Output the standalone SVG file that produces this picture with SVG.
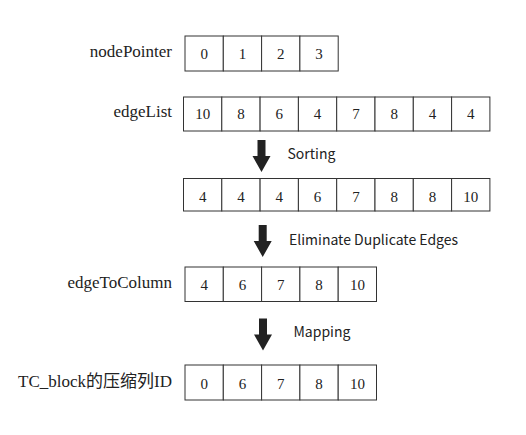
<svg xmlns="http://www.w3.org/2000/svg" width="526" height="435" viewBox="0 0 526 435">
<style>
.cell{fill:#fff;stroke:#333;stroke-width:1}
.num{font-family:'Liberation Serif','Times New Roman',Tinos,'DejaVu Serif',serif;font-size:15px;fill:#222;text-anchor:middle}
.lbl{font-family:'Liberation Serif','Times New Roman',Tinos,'DejaVu Serif',serif;font-size:17px;fill:#222;text-anchor:end}
.cjk{font-family:'Noto Sans CJK SC',sans-serif}
.step{font-family:'Noto Sans CJK SC','Noto Sans',sans-serif;font-size:14px;fill:#222}
.arr{fill:#222}
</style>
<defs>
<path id="downArrow" class="arr" d="M-4,0 H4 V16 H9 L0,32 L-9,16 H-4 Z"/>
</defs>
<rect width="526" height="435" fill="#fff"/>
<g id="nodePointer">
<text class="lbl" x="172" y="57">nodePointer</text>
<rect class="cell" x="185" y="36" width="38.3" height="35"/>
<rect class="cell" x="223.3" y="36" width="38.3" height="35"/>
<rect class="cell" x="261.6" y="36" width="38.3" height="35"/>
<rect class="cell" x="299.9" y="36" width="38.3" height="35"/>
<text class="num" x="204.2" y="59">0</text>
<text class="num" x="242.5" y="59">1</text>
<text class="num" x="280.8" y="59">2</text>
<text class="num" x="319.1" y="59">3</text>
</g>
<g id="edgeList">
<text class="lbl" x="172" y="117">edgeList</text>
<rect class="cell" x="183.5" y="97" width="38.3" height="34"/>
<rect class="cell" x="221.8" y="97" width="38.3" height="34"/>
<rect class="cell" x="260.1" y="97" width="38.3" height="34"/>
<rect class="cell" x="298.4" y="97" width="38.3" height="34"/>
<rect class="cell" x="336.7" y="97" width="38.3" height="34"/>
<rect class="cell" x="375" y="97" width="38.3" height="34"/>
<rect class="cell" x="413.3" y="97" width="38.3" height="34"/>
<rect class="cell" x="451.6" y="97" width="38.3" height="34"/>
<text class="num" x="202.7" y="118.5">10</text>
<text class="num" x="241" y="118.5">8</text>
<text class="num" x="279.3" y="118.5">6</text>
<text class="num" x="317.6" y="118.5">4</text>
<text class="num" x="355.9" y="118.5">7</text>
<text class="num" x="394.2" y="118.5">8</text>
<text class="num" x="432.5" y="118.5">4</text>
<text class="num" x="470.8" y="118.5">4</text>
</g>
<g id="sorted">
<rect class="cell" x="183.5" y="178.5" width="38.3" height="32.5"/>
<rect class="cell" x="221.8" y="178.5" width="38.3" height="32.5"/>
<rect class="cell" x="260.1" y="178.5" width="38.3" height="32.5"/>
<rect class="cell" x="298.4" y="178.5" width="38.3" height="32.5"/>
<rect class="cell" x="336.7" y="178.5" width="38.3" height="32.5"/>
<rect class="cell" x="375" y="178.5" width="38.3" height="32.5"/>
<rect class="cell" x="413.3" y="178.5" width="38.3" height="32.5"/>
<rect class="cell" x="451.6" y="178.5" width="38.3" height="32.5"/>
<text class="num" x="202.7" y="201.5">4</text>
<text class="num" x="241" y="201.5">4</text>
<text class="num" x="279.3" y="201.5">4</text>
<text class="num" x="317.6" y="201.5">6</text>
<text class="num" x="355.9" y="201.5">7</text>
<text class="num" x="394.2" y="201.5">8</text>
<text class="num" x="432.5" y="201.5">8</text>
<text class="num" x="470.8" y="201.5">10</text>
</g>
<g id="edgeToColumn">
<text class="lbl" x="172" y="288">edgeToColumn</text>
<rect class="cell" x="185" y="267" width="38.3" height="34.5"/>
<rect class="cell" x="223.3" y="267" width="38.3" height="34.5"/>
<rect class="cell" x="261.6" y="267" width="38.3" height="34.5"/>
<rect class="cell" x="299.9" y="267" width="38.3" height="34.5"/>
<rect class="cell" x="338.2" y="267" width="38.3" height="34.5"/>
<text class="num" x="204.2" y="290">4</text>
<text class="num" x="242.5" y="290">6</text>
<text class="num" x="280.8" y="290">7</text>
<text class="num" x="319.1" y="290">8</text>
<text class="num" x="357.4" y="290">10</text>
</g>
<g id="compressedID">
<text class="lbl" x="172" y="386.5">TC_block<tspan class="cjk">的压缩列</tspan>ID</text>
<rect class="cell" x="185" y="365" width="38.3" height="35"/>
<rect class="cell" x="223.3" y="365" width="38.3" height="35"/>
<rect class="cell" x="261.6" y="365" width="38.3" height="35"/>
<rect class="cell" x="299.9" y="365" width="38.3" height="35"/>
<rect class="cell" x="338.2" y="365" width="38.3" height="35"/>
<text class="num" x="204.2" y="388.5">0</text>
<text class="num" x="242.5" y="388.5">6</text>
<text class="num" x="280.8" y="388.5">7</text>
<text class="num" x="319.1" y="388.5">8</text>
<text class="num" x="357.4" y="388.5">10</text>
</g>
<g id="connectors">
<use href="#downArrow" x="261.5" y="140"/>
<use href="#downArrow" x="262.7" y="225"/>
<use href="#downArrow" x="263" y="318.5"/>
<text class="step" x="287.5" y="159">Sorting</text>
<text class="step" x="289" y="245">Eliminate Duplicate Edges</text>
<text class="step" x="293.5" y="337">Mapping</text>
</g>
</svg>
